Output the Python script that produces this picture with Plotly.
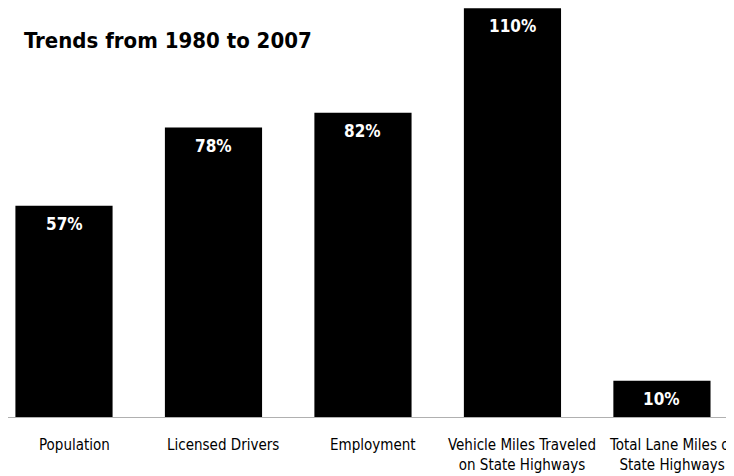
import plotly.graph_objects as go

categories = ["Population", "Licensed Drivers", "Employment",
              "Vehicle Miles Traveled<br>on State Highways",
              "Total Lane Miles of<br>State Highways"]
growth = [57, 78, 82, 110, 10]
labels = ["57%", "78%", "82%", "110%", "10%"]

narrow = "DejaVu Sans Condensed, Arial Narrow, sans-serif"

# page body has an 8px margin, so the figure is sized to fill what is left
W, H = 726, 468

fig = go.Figure()
fig.add_trace(go.Bar(
    x=categories,
    y=growth,
    marker=dict(color="black", line=dict(width=0)),
    width=0.65,
    hoverinfo="skip",
))

for c, v, t in zip(categories, growth, labels):
    fig.add_annotation(x=c, y=v, text="<b>%s</b>" % t, showarrow=False,
                       yanchor="middle", yshift=-18,
                       font=dict(family=narrow, size=17, color="white"))
    # category names sit a little right of the bar centres in the original
    fig.add_annotation(x=c, y=0, text=c, showarrow=False, align="center",
                       yanchor="top", yshift=-16, xshift=10,
                       font=dict(family=narrow, size=15, color="black"))

# baseline
fig.add_shape(type="line", xref="paper", yref="y", x0=0, x1=1, y0=0, y1=0,
              line=dict(color="#b0b0b0", width=2))

fig.update_layout(
    width=W, height=H,
    margin=dict(l=0, r=0, t=0, b=58, autoexpand=False),
    paper_bgcolor="white", plot_bgcolor="white",
    showlegend=False,
    title=dict(text="<b>Trends from 1980 to 2007</b>", x=16 / W, xanchor="left",
               y=1 - 32 / H, yanchor="middle",
               font=dict(family=narrow, size=22, color="black")),
    xaxis=dict(range=[-0.3746, 4.482], showgrid=False, zeroline=False, showline=False,
               automargin=False, showticklabels=False),
    yaxis=dict(range=[0, 110.1], visible=False, automargin=False),
)

fig.write_html("out.html")
